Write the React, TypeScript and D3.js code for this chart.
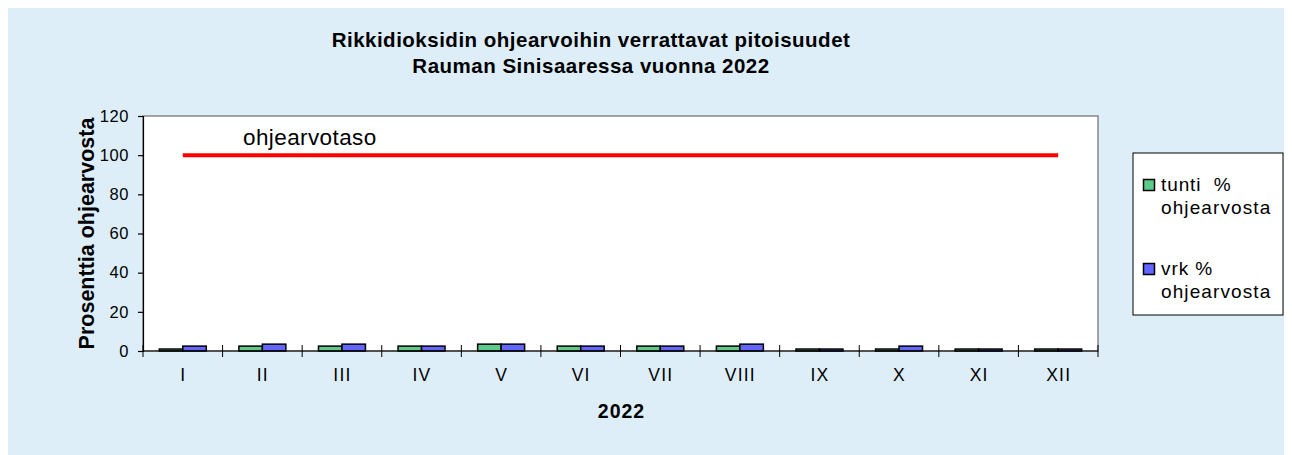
import React, { useEffect, useRef } from 'react';
import * as d3 from 'd3';

// Kuukaudet
const months = ['I', 'II', 'III', 'IV', 'V', 'VI', 'VII', 'VIII', 'IX', 'X', 'XI', 'XII'];
// tunti % ohjearvosta
const tuntiValues = [1, 2.5, 2.5, 2.5, 3.5, 2.5, 2.5, 2.5, 1, 1, 1, 1];
// vrk % ohjearvosta
const vrkValues = [2.5, 3.5, 3.5, 2.5, 3.5, 2.5, 2.5, 3.5, 1, 2.5, 1, 1];
// ohjearvotaso
const guideValues = [100, 100, 100, 100, 100, 100, 100, 100, 100, 100, 100, 100];
const yTicks = [0, 20, 40, 60, 80, 100, 120];

const seriesNames = ['tunti', 'vrk'];
const seriesColors = ['#5ccb8a', '#6464ff'];

const App = () => {
  const svgRef = useRef<SVGSVGElement>(null);

  useEffect(() => {
    const svg = d3.select(svgRef.current);
    svg.selectAll('*').remove();

    const W = 1284;
    const H = 447;
    const font = 'Arial, "Liberation Sans", sans-serif';
    // svg sits at (8,8) on the page, draw in page coordinates
    const ox = -8, oy = -8;

    svg.append('rect').attr('x', 0).attr('y', -1).attr('width', W).attr('height', H + 1).attr('fill', '#ddeef9');

    const g = svg.append('g').attr('transform', `translate(${ox},${oy})`);

    const left = 143, right = 1098, top = 116, bottom = 351;

    const x0 = d3.scaleBand<string>().domain(months).range([left, right]);
    const groupW = x0.bandwidth() * 0.59;
    const x1 = d3.scaleBand<string>().domain(seriesNames).range([0, groupW]);
    const y = d3.scaleLinear().domain([0, 120]).range([bottom, top]);

    // plot area
    g.append('rect')
      .attr('x', left).attr('y', top)
      .attr('width', right - left).attr('height', bottom - top)
      .attr('fill', '#ffffff')
      .attr('stroke', '#888888').attr('stroke-width', 1.5);

    // title
    const title = g.append('text')
      .attr('text-anchor', 'middle')
      .attr('font-family', font).attr('font-weight', 'bold').attr('font-size', 20.5)
      .attr('letter-spacing', 0.5)
      .attr('fill', '#000');
    title.append('tspan').attr('x', 591).attr('y', 47).text('Rikkidioksidin ohjearvoihin verrattavat pitoisuudet');
    title.append('tspan').attr('x', 591).attr('y', 73).text('Rauman Sinisaaressa vuonna 2022');

    // bars
    const data = months.map((m, i) => ({ m, vals: [tuntiValues[i], vrkValues[i]] }));
    const groups = g.selectAll('.grp').data(data).enter().append('g')
      .attr('transform', d => `translate(${(x0(d.m) as number) + (x0.bandwidth() - groupW) / 2},0)`);
    groups.selectAll('rect').data(d => d.vals.map((v, k) => ({ v, k })))
      .enter().append('rect')
      .attr('x', d => x1(seriesNames[d.k]) as number)
      .attr('width', x1.bandwidth())
      .attr('y', d => y(d.v))
      .attr('height', d => bottom - y(d.v))
      .attr('fill', d => seriesColors[d.k])
      .attr('stroke', '#000').attr('stroke-width', 1.5);

    // guide line
    const line = d3.line<number>()
      .x((_, i) => (x0(months[i]) as number) + x0.bandwidth() / 2)
      .y(d => y(d));
    g.append('path').datum(guideValues)
      .attr('d', line)
      .attr('fill', 'none').attr('stroke', '#ff0000').attr('stroke-width', 4);

    g.append('text')
      .attr('x', 243).attr('y', 145)
      .attr('font-family', font).attr('font-size', 22.5)
      .attr('letter-spacing', 0.4)
      .text('ohjearvotaso');

    // y axis
    const yAxis = g.append('g').attr('transform', `translate(${left},0)`)
      .call(d3.axisLeft(y).tickValues(yTicks).tickSize(5).tickPadding(9).tickFormat(d3.format('d')));
    yAxis.selectAll('path, line').attr('stroke', '#000').attr('stroke-width', 1.2);
    yAxis.selectAll('text').attr('font-family', font).attr('font-size', 16.5)
      .attr('letter-spacing', 0.6).attr('fill', '#000');

    // x axis
    const xAxis = g.append('g').attr('transform', `translate(0,${bottom})`);
    xAxis.append('line').attr('x1', left).attr('x2', right).attr('y1', 0).attr('y2', 0)
      .attr('stroke', '#000').attr('stroke-width', 1.2);
    const bounds = months.map(m => x0(m) as number).concat([right]);
    xAxis.selectAll('.xt').data(bounds).enter().append('line')
      .attr('x1', d => d).attr('x2', d => d).attr('y1', -6).attr('y2', 6)
      .attr('stroke', '#000').attr('stroke-width', 1);
    xAxis.selectAll('.xl').data(months).enter().append('text')
      .attr('x', d => (x0(d) as number) + x0.bandwidth() / 2 + 0.5)
      .attr('y', 30)
      .attr('text-anchor', 'middle')
      .attr('font-family', font).attr('font-size', 17.5)
      .attr('letter-spacing', 1.2)
      .text(d => d);

    g.append('text')
      .attr('x', (left + right) / 2 + 1).attr('y', 418)
      .attr('text-anchor', 'middle')
      .attr('font-family', font).attr('font-weight', 'bold').attr('font-size', 19.5)
      .attr('letter-spacing', 1)
      .text('2022');

    g.append('text')
      .attr('transform', `translate(94,${(top + bottom) / 2}) rotate(-90)`)
      .attr('text-anchor', 'middle')
      .attr('font-family', font).attr('font-weight', 'bold').attr('font-size', 21.5)
      .text('Prosenttia ohjearvosta');

    // legend
    const lg = g.append('g');
    lg.append('rect')
      .attr('x', 1133).attr('y', 153).attr('width', 150).attr('height', 162)
      .attr('fill', '#ffffff').attr('stroke', '#000').attr('stroke-width', 1);
    const legendItems = [
      { l1: 'tunti  %', l2: 'ohjearvosta', y: 191, c: seriesColors[0] },
      { l1: 'vrk %', l2: 'ohjearvosta', y: 275, c: seriesColors[1] },
    ];
    legendItems.forEach(it => {
      lg.append('rect').attr('x', 1143.5).attr('y', it.y - 11.5).attr('width', 11).attr('height', 11)
        .attr('fill', it.c).attr('stroke', '#000').attr('stroke-width', 1.5);
      lg.append('text').attr('x', 1161).attr('y', it.y)
        .attr('font-family', font).attr('font-size', 19)
        .attr('letter-spacing', 0.9)
        .style('white-space', 'pre')
        .text(it.l1);
      lg.append('text').attr('x', 1161).attr('y', it.y + 23)
        .attr('font-family', font).attr('font-size', 19)
        .attr('letter-spacing', 1.1)
        .text(it.l2);
    });
  }, []);

  return <svg ref={svgRef} width={1284} height={447} style={{ display: 'block', overflow: 'visible' }} />;
};

export default App;
